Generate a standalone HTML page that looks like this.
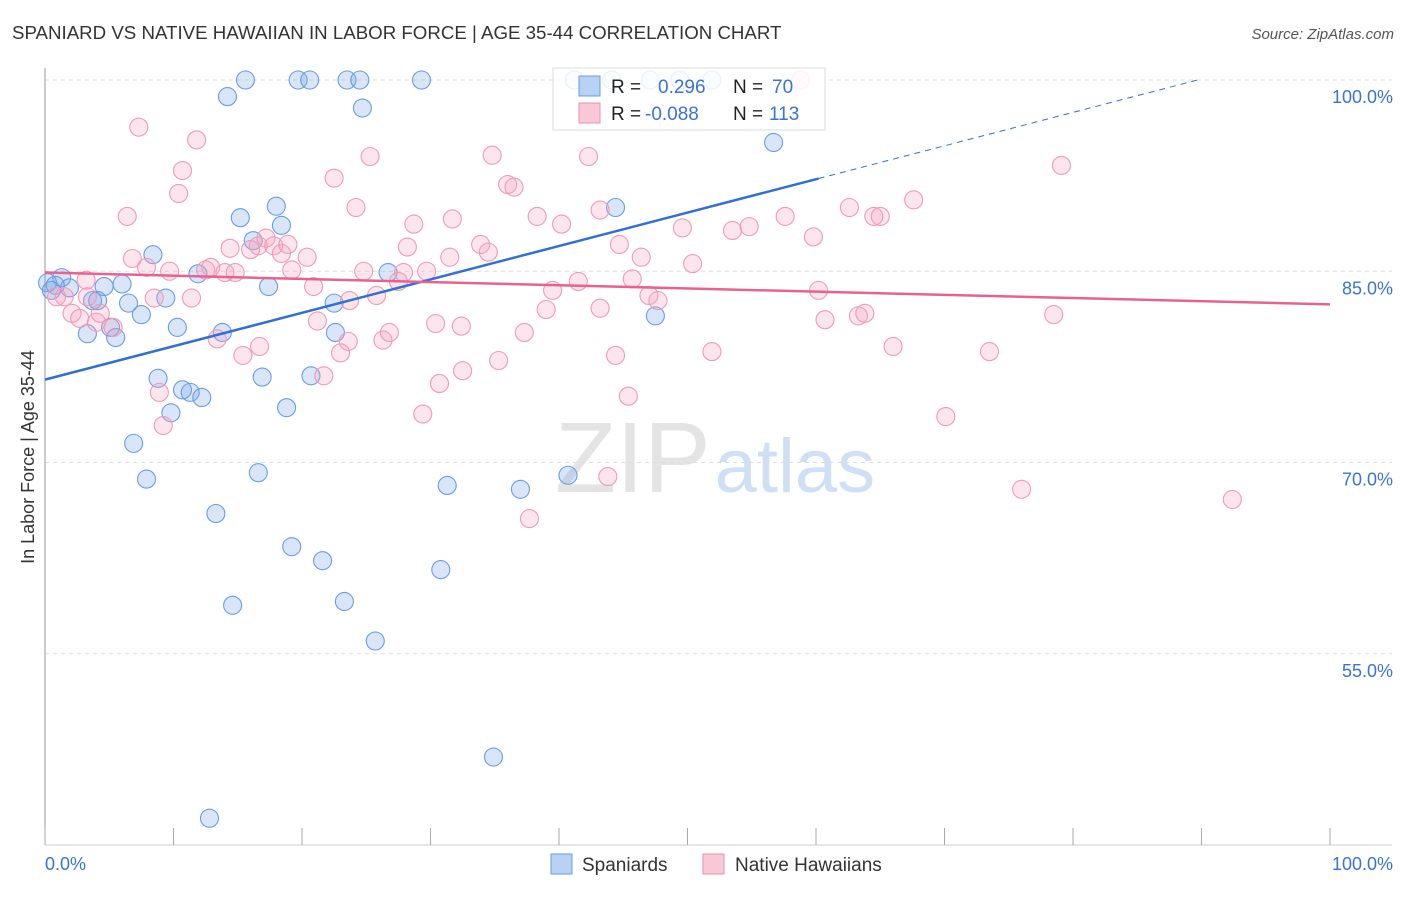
<!DOCTYPE html>
<html><head><meta charset="utf-8"><style>
body{margin:0;background:#fff;font-family:"Liberation Sans",sans-serif}
svg text{font-family:"Liberation Sans",sans-serif}
</style></head><body>
<svg id="chart" width="1406" height="892" xmlns="http://www.w3.org/2000/svg">
<text x="12" y="39" font-size="18.7" fill="#333">SPANIARD VS NATIVE HAWAIIAN IN LABOR FORCE | AGE 35-44 CORRELATION CHART</text>
<text x="1394" y="39" font-size="15" fill="#555" text-anchor="end" font-style="italic">Source: ZipAtlas.com</text>
<text x="555" y="492" font-size="100" fill="#e4e4e4" font-family="Liberation Serif">ZIP<tspan fill="#d0e0f4" font-family="Liberation Sans" font-size="76" dx="4">atlas</tspan></text>
<g id="grid"></g>
<g id="axes"></g>
<g id="pts"></g>
<g id="trends"></g>
<text transform="translate(34,457) rotate(-90)" font-size="18" fill="#333" text-anchor="middle">In Labor Force | Age 35-44</text>
<g>
<rect x="553" y="68" width="272" height="62" fill="#fff" fill-opacity="0.85" stroke="#ddd"/>
<rect x="579" y="76" width="21" height="20" fill="#b8d2f4" stroke="#6b9be0"/>
<rect x="579" y="103" width="21" height="20" fill="#f9c8d6" stroke="#e890ac"/>
<text x="611" y="93" font-size="19" fill="#222">R = </text><text x="658" y="93" font-size="19" fill="#3a74d0">0.296</text>
<text x="733" y="93" font-size="19" fill="#222">N = </text><text x="772" y="93" font-size="19" fill="#3a74d0">70</text>
<text x="611" y="120" font-size="19" fill="#222">R = </text><text x="645" y="120" font-size="19" fill="#3a74d0">-0.088</text>
<text x="733" y="120" font-size="19" fill="#222">N = </text><text x="769" y="120" font-size="19" fill="#3a74d0">113</text>
</g>
<g>
<rect x="551" y="854" width="21" height="20" fill="#b8d2f4" stroke="#6b9be0"/>
<text x="582" y="871" font-size="19" fill="#333">Spaniards</text>
<rect x="703" y="854" width="21" height="20" fill="#f9c8d6" stroke="#e890ac"/>
<text x="735" y="871" font-size="19" fill="#333">Native Hawaiians</text>
</g>
</svg>
<script>
const blueX=[15.6,19.7,20.6,23.5,24.5,29.3,14.2,24.7,56.7,15.2,18.0,18.4,44.4,8.4,16.2,11.9,1.3,1.9,4.6,6.0,3.7,4.1,6.5,9.4,7.5,5.1,3.3,5.5,10.3,13.8,17.4,22.5,22.6,26.7,47.5,8.8,10.7,11.3,12.2,9.8,16.9,20.7,18.8,6.9,7.9,16.6,13.3,31.3,37.0,40.7,19.2,21.6,30.8,14.6,23.3,25.7,34.9,12.8,0.2,0.8,0.5,41.2,44.1,47.1,49.4,51.9];
const blueY=[100,100,100,100,100,100,98.7,97.8,95.1,89.2,90.1,88.6,90.0,86.3,87.4,84.8,84.5,83.7,83.8,84.0,82.7,82.7,82.5,82.9,81.6,80.6,80.1,79.8,80.6,80.2,83.8,82.5,80.2,84.9,81.5,76.6,75.7,75.5,75.1,73.9,76.7,76.8,74.3,71.5,68.7,69.2,66.0,68.2,67.9,69.0,63.4,62.3,61.6,58.8,59.1,56.0,46.9,42.1,84.1,83.9,83.5,100,100,100,100,100];
const pinkX=[7.3,11.8,10.7,10.4,6.4,22.5,25.3,24.2,34.8,42.3,36.0,36.5,38.3,40.2,43.2,28.7,31.7,49.6,53.5,54.8,57.6,59.8,62.6,64.5,65.0,67.6,79.1,6.8,7.9,9.7,12.5,12.9,14.0,14.8,14.4,16.0,16.6,17.2,17.8,18.4,18.9,20.4,19.2,20.9,24.8,27.9,27.5,29.7,28.2,31.5,33.9,34.5,39.5,41.5,39.0,44.7,46.4,45.7,47.0,47.7,50.4,60.2,43.2,8.5,11.4,3.2,3.3,1.5,0.9,2.1,2.7,4.3,5.3,4.0,8.9,9.2,13.4,15.4,16.7,21.2,21.7,23.0,23.6,23.7,25.8,26.3,26.8,30.4,32.4,35.3,32.5,30.7,29.4,37.3,44.4,45.4,51.9,60.7,63.3,63.8,66.0,70.1,73.5,78.5,76.0,92.4,37.7,43.8,58.8];
const pinkY=[96.3,95.3,92.9,91.1,89.3,92.3,94.0,90.0,94.1,94.0,91.8,91.6,89.3,88.7,89.8,88.7,89.1,88.4,88.2,88.5,89.3,87.7,90.0,89.3,89.3,90.6,93.3,86.0,85.3,85.0,85.1,85.3,84.9,84.9,86.8,86.7,87.0,87.6,87.0,86.4,87.1,86.1,85.1,83.8,85.0,84.9,84.2,85.0,86.9,86.1,87.1,86.5,83.5,84.2,82.0,87.1,86.1,84.4,83.1,82.7,85.6,83.5,82.1,82.9,82.9,84.3,83.0,83.0,83.0,81.7,81.3,81.7,80.6,81.0,75.5,72.9,79.7,78.4,79.1,81.1,76.8,78.6,79.5,82.7,83.1,79.6,80.2,80.9,80.7,78.0,77.2,76.2,73.8,80.2,78.4,75.2,78.7,81.2,81.5,81.7,79.1,73.6,78.7,81.6,67.9,67.1,65.6,68.9,100];
const blueTrend=[76.5,0.262];
const pinkTrend=[84.9,-0.025];
const yTicks=[100,85,70,55];
const yTickLabels=["100.0%","85.0%","70.0%","55.0%"];
const xTicks=[0,10,20,30,40,50,60,70,80,90,100];
const NS="http://www.w3.org/2000/svg";
const sx=v=>45+v*12.85, sy=v=>80+(100-v)*12.75;
function mk(tag,attrs,parent){const e=document.createElementNS(NS,tag);for(const k in attrs)e.setAttribute(k,attrs[k]);parent.appendChild(e);return e;}
const grid=document.getElementById('grid'),axes=document.getElementById('axes'),pts=document.getElementById('pts'),tr=document.getElementById('trends');
yTicks.forEach((t,i)=>{
 const l=mk('line',{x1:45,x2:1392,y1:sy(t),y2:sy(t),stroke:'#ddd','stroke-dasharray':'4,4'},grid);
 
 
 const tx=mk('text',{x:1393,y:sy(t)+23,'font-size':18,fill:'#3a74d0','text-anchor':'end'},axes);
 tx.textContent=yTickLabels[i];
 
 
});
const ya=mk('line',{x1:45,x2:45,y1:68,y2:845,stroke:'#999'},axes);


const xa=mk('line',{x1:45,x2:1392,y1:845,y2:845,stroke:'#ccc'},axes);


xTicks.forEach(t=>{
 const l=mk('line',{x1:sx(t),x2:sx(t),y1:828,y2:845,stroke:'#aaa'},axes);
 
 
});
const x0=mk('text',{x:45,y:870,'font-size':18,fill:'#3a74d0'},axes);x0.textContent='0.0%';


const x1=mk('text',{x:1393,y:870,'font-size':18,fill:'#3a74d0','text-anchor':'end'},axes);x1.textContent='100.0%';


blueX.forEach((x,i)=>{
 const c=mk('circle',{cx:sx(x),cy:sy(blueY[i]),r:9,fill:'rgba(120,165,235,0.28)',stroke:'#6b9be4','stroke-width':1.1},pts);
 
 
});
pinkX.forEach((x,i)=>{
 const c=mk('circle',{cx:sx(x),cy:sy(pinkY[i]),r:9,fill:'rgba(245,160,190,0.28)',stroke:'#ef9ab6','stroke-width':1.1},pts);
 
 
});
const bf=v=>blueTrend[0]+blueTrend[1]*v;
const bl=mk('line',{x1:sx(0),y1:sy(bf(0)),x2:sx(60.2),y2:sy(bf(60.2)),stroke:'#2f6fd6','stroke-width':2.5},tr);


const xe=(100-blueTrend[0])/blueTrend[1];
const bd=mk('line',{x1:sx(60.2),y1:sy(bf(60.2)),x2:sx(xe),y2:sy(100),stroke:'#2f6fd6','stroke-width':1,'stroke-dasharray':'6,5'},tr);


const pf=v=>pinkTrend[0]+pinkTrend[1]*v;
const pl=mk('line',{x1:sx(0),y1:sy(pf(0)),x2:sx(100),y2:sy(pf(100)),stroke:'#e8628f','stroke-width':2.5},tr);


</script>
</body></html>
